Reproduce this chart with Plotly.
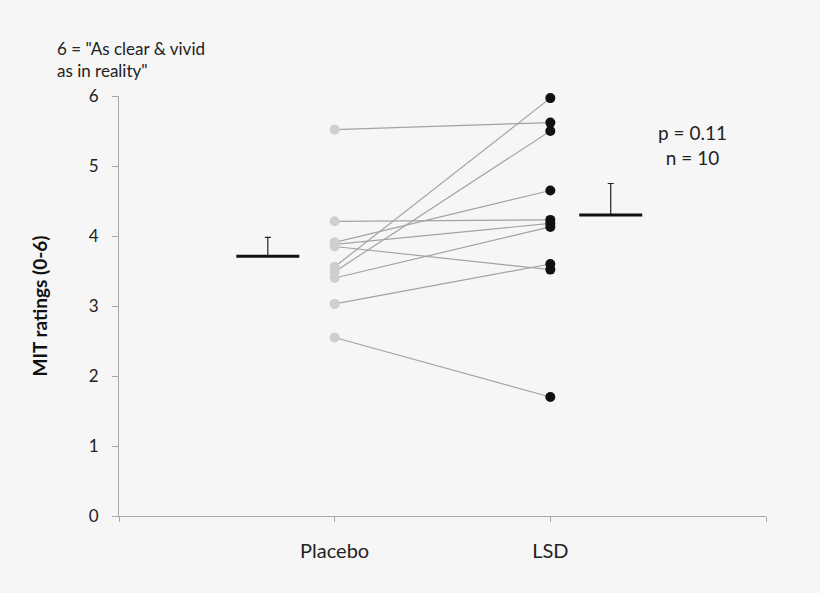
import plotly.graph_objs as go

# MIT ratings per subject
placebo = [5.52, 4.21, 3.91, 3.88, 3.85, 3.56, 3.49, 3.40, 3.03, 2.55]
lsd = [5.62, 4.23, 4.65, 4.18, 3.52, 5.97, 5.50, 4.13, 3.60, 1.70]

# group means and upper error (SEM)
mean_x = [0.69, 2.28]
mean_y = [3.71, 4.30]
sem_up = [0.27, 0.45]

tick_vals = [0, 1, 2, 3]
tick_text = ["", "Placebo", "LSD", ""]

FONT = "Lato, Open Sans, sans-serif"
BG = "#f6f6f6"


def main():
    fig = go.Figure()

    # paired lines
    for p, l in zip(placebo, lsd):
        fig.add_trace(go.Scatter(x=[1, 2], y=[p, l], mode="lines",
                                 line=dict(color="#a3a3a3", width=1.2),
                                 hoverinfo="skip", showlegend=False))

    fig.add_trace(go.Scatter(x=[1] * len(placebo), y=placebo, mode="markers",
                             marker=dict(color="#cfcfcf", size=10), name="Placebo",
                             cliponaxis=False, showlegend=False))
    fig.add_trace(go.Scatter(x=[2] * len(lsd), y=lsd, mode="markers",
                             marker=dict(color="#111111", size=10), name="LSD",
                             cliponaxis=False, showlegend=False))

    # means with upper error bar
    fig.add_trace(go.Scatter(x=mean_x, y=mean_y, mode="markers",
                             marker=dict(symbol="line-ew", size=45,
                                         line=dict(color="#111111", width=3)),
                             error_y=dict(type="data", symmetric=False, array=sem_up,
                                          arrayminus=[0, 0], color="#222222",
                                          thickness=1.2, width=3),
                             showlegend=False))

    fig.add_annotation(x=0.887, y=0.883, xref="paper", yref="paper",
                       text="p = 0.11<br>n = 10", showarrow=False,
                       xanchor="center", yanchor="middle",
                       font=dict(size=19, color="#222222"), align="center")
    fig.add_annotation(x=-0.099, y=1.087, xref="paper", yref="paper",
                       text="6 = \"As clear &amp; vivid<br>as in reality\"",
                       showarrow=False, align="left", xanchor="left", yanchor="middle",
                       font=dict(size=17, color="#222222"))

    fig.update_xaxes(range=[0, 3], tickvals=tick_vals, ticktext=tick_text,
                     showgrid=False, zeroline=False, showline=True,
                     linecolor="#a8a8a8", linewidth=1, ticks="outside",
                     tickcolor="#a8a8a8", ticklen=5, ticklabelstandoff=12,
                     tickfont=dict(size=20, color="#222222"))
    fig.update_yaxes(range=[0, 6], dtick=1, showgrid=False, zeroline=False,
                     showline=True, linecolor="#a8a8a8", linewidth=1,
                     ticks="outside", tickcolor="#a8a8a8", ticklen=6,
                     ticklabelstandoff=10,
                     tickfont=dict(size=17, color="#222222"),
                     title=dict(text="<b>MIT ratings (0-6)</b>",
                                font=dict(size=19, color="#111111"), standoff=36))
    fig.update_layout(width=820, height=593,
                      margin=dict(l=119, r=54, t=96, b=77),
                      paper_bgcolor=BG, plot_bgcolor=BG,
                      font=dict(family=FONT))
    fig.write_html("out.html", config={"displayModeBar": False},
                   post_script="document.body.style.margin='0';"
                               "document.body.style.background='%s';" % BG)


if __name__ == "__main__":
    main()
